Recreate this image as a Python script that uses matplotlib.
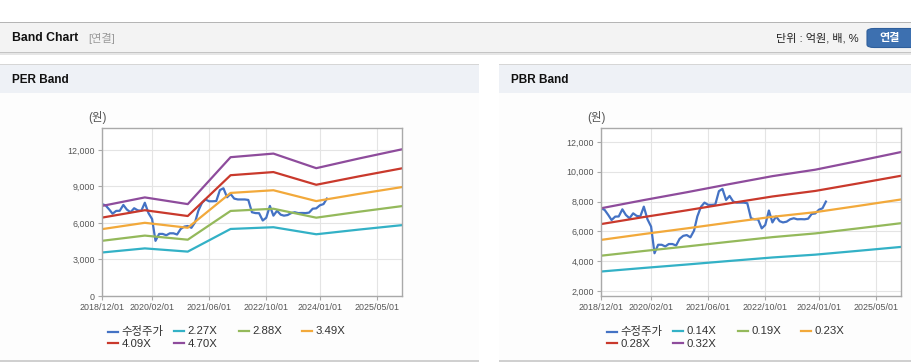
import numpy as np
import pandas as pd
import matplotlib
matplotlib.use("Agg")
import matplotlib.pyplot as plt
import matplotlib.dates as mdates
from matplotlib.patches import Rectangle, FancyBboxPatch

plt.rcParams["font.family"] = ["Liberation Sans", "Noto Sans CJK KR", "DejaVu Sans"]

# ---- data ----
band_dates = pd.to_datetime(["2018-12-01", "2019-12-01", "2020-12-01", "2021-12-01",
                             "2022-12-01", "2023-12-01", "2024-12-01", "2025-12-01"])

per_labels = ["2.27X", "2.88X", "3.49X", "4.09X", "4.70X"]
per_227 = [3573, 3911, 3646, 5507, 5650, 5071, 5457, 5820]
per_288 = [4533, 4962, 4625, 6987, 7168, 6434, 6924, 7384]
per_349 = [5493, 6013, 5605, 8467, 8687, 7797, 8390, 8948]
per_409 = [6438, 7047, 6569, 9922, 10180, 9137, 9832, 10487]
per_470 = [7398, 8098, 7548, 11402, 11698, 10500, 11299, 12051]

pbr_labels = ["0.14X", "0.19X", "0.23X", "0.28X", "0.32X"]
pbr_014 = [3303, 3544, 3774, 4014, 4247, 4436, 4693, 4955]
pbr_019 = [4365, 4683, 4987, 5304, 5612, 5862, 6201, 6548]
pbr_023 = [5427, 5822, 6200, 6595, 6977, 7288, 7709, 8141]
pbr_028 = [6488, 6961, 7413, 7885, 8342, 8714, 9218, 9733]
pbr_032 = [7550, 8100, 8626, 9175, 9707, 10140, 10726, 11326]

# monthly adjusted price, 2018/12 .. 2024/03
price = [7550, 7440, 7100, 6760, 6990, 7000, 7480, 7100, 6880, 7210,
         7040, 7000, 7660, 6810, 6320, 4530, 5100, 5100, 4990, 5150,
         5150, 5050, 5500, 5700, 5750, 5600, 6050, 7000, 7650, 7930,
         7780, 7780, 7800, 8700, 8850, 8110, 8380, 8000, 7930, 7930,
         7930, 7890, 6880, 6810, 6800, 6200, 6430, 7400, 6600, 7000,
         6680, 6600, 6650, 6810, 6880, 6810, 6820, 6810, 6850, 7170,
         7200, 7450, 7550, 8000]
price_dates = pd.date_range("2018-12-01", periods=len(price), freq="MS")
price_label = "수정주가"

tick_dates = pd.to_datetime(["2018-12-01", "2020-02-01", "2021-06-01",
                             "2022-10-01", "2024-01-01", "2025-05-01"])

C_PRICE = "#4472c4"
BAND_COLORS = ["#33b1c6", "#94b95b", "#f2a93b", "#c9392c", "#8e4c9c"]

W, H = 912, 364
fig = plt.figure(figsize=(W / 100, H / 100), dpi=100)
fig.patch.set_facecolor("white")


def fx(x):
    return x / W


def fy(y):
    return 1 - y / H


def box(x0, y0, x1, y1, color):
    fig.add_artist(Rectangle((fx(x0), fy(y1)), (x1 - x0) / W, (y1 - y0) / H,
                             transform=fig.transFigure, facecolor=color,
                             edgecolor="none", zorder=-5))


# header bar
box(0, 22, W, 23.2, "#b5b5b5")
box(0, 23.2, W, 52, "#f3f3f3")
box(0, 52, W, 53.2, "#c4c4c4")
box(0, 53.2, W, 54.5, "#e6e6e6")
fig.text(fx(12), fy(38), "Band Chart", fontsize=8.8, fontweight="bold", va="center", color="#111")
fig.text(fx(88), fy(38), "[연결]", fontsize=8, va="center", color="#9a9a9a")
fig.text(fx(859), fy(38), "단위 : 억원, 배, %", fontsize=8, va="center", ha="right", color="#222")
fig.add_artist(FancyBboxPatch((fx(867), fy(47.5)), (50) / W, (19) / H,
                              boxstyle="round,pad=0,rounding_size=0.008",
                              transform=fig.transFigure, facecolor="#3d70b0",
                              edgecolor="#2f5f9c", lw=0.8, zorder=-4))
fig.text(fx(890), fy(38), "연결", fontsize=8, fontweight="bold", va="center",
         ha="center", color="white")

# panels
for x0, x1, title in [(0, 479, "PER Band"), (499, W, "PBR Band")]:
    box(x0, 63.5, x1, 65, "#d6d6d6")
    box(x0, 65, x1, 93, "#eef1f6")
    box(x0, 93, x1, 360, "#fdfdfd")
    box(x0, 360, x1, 361.5, "#d0d0d0")
    fig.text(fx(x0 + 12), fy(80), title, fontsize=8.5, fontweight="bold", va="center", color="#111")


def draw_panel(left, bands, labels, ylim, yticks):
    ax = fig.add_axes([fx(left), fy(296), 300 / W, 168 / H])
    ax.set_facecolor("white")
    handles = []
    h, = ax.plot(price_dates, price, color=C_PRICE, lw=1.6, label=price_label)
    handles.append(h)
    for vals, c, lab in zip(bands, BAND_COLORS, labels):
        h, = ax.plot(band_dates, vals, color=c, lw=1.6, label=lab)
        handles.append(h)

    ax.set_xlim(pd.Timestamp("2018-12-01"), pd.Timestamp("2025-12-01"))
    ax.set_ylim(*ylim)
    ax.set_xticks(tick_dates)
    ax.xaxis.set_major_formatter(mdates.DateFormatter("%Y/%m/%d"))
    ax.set_yticks(yticks)
    ax.set_yticklabels([f"{v:,}" for v in yticks])
    ax.grid(True, color="#e4e4e4", lw=0.8)
    ax.set_axisbelow(True)
    for s in ax.spines.values():
        s.set_color("#a9a9a9")
        s.set_linewidth(1)
    ax.tick_params(labelsize=6.4, labelcolor="#555", color="#aaa", length=3, pad=2)

    fig.text(fx(left - 14), fy(117), "(원)", fontsize=8.3, va="center", color="#555")

    # legend: four fixed-width columns, filled row by row
    # (first column holds the taller Hangul label, so it gets less spacing)
    col_x = [6, 72, 137, 200]
    col_sp = [0.15, 0.25, 0.25, 0.25]
    for i, cx in enumerate(col_x):
        idx = [i] + ([i + 4] if i + 4 < len(handles) else [])
        fig.legend(handles=[handles[k] for k in idx], labels=[handles[k].get_label() for k in idx],
                   loc="upper left", bbox_to_anchor=(fx(left + cx), fy(326.5)),
                   frameon=False, borderpad=0, borderaxespad=0, fontsize=8.2,
                   handlelength=0.9, handletextpad=0.3, labelspacing=col_sp[i],
                   labelcolor="#333")
    return ax


draw_panel(102, [per_227, per_288, per_349, per_409, per_470], per_labels,
           (0, 13800), [0, 3000, 6000, 9000, 12000])
draw_panel(601, [pbr_014, pbr_019, pbr_023, pbr_028, pbr_032], pbr_labels,
           (1660, 12940), [2000, 4000, 6000, 8000, 10000, 12000])

fig.savefig("out.png", dpi=100)
